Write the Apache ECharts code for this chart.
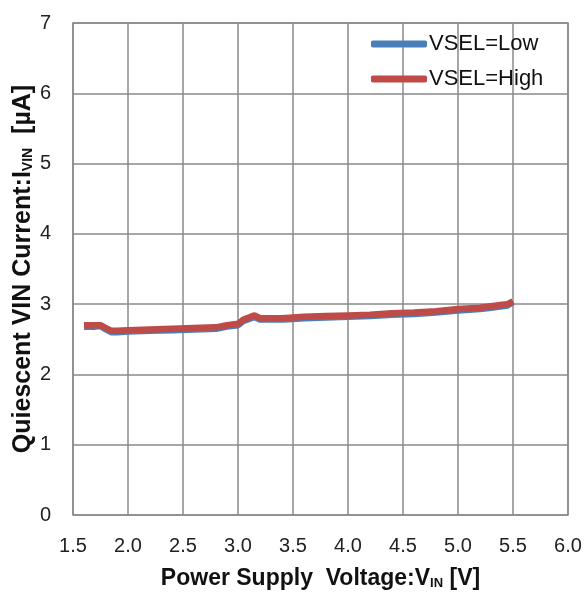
<!DOCTYPE html>
<html>
<head>
<meta charset="utf-8">
<script src="https://cdn.jsdelivr.net/npm/echarts@6/dist/echarts.min.js"></script>
<style>
  html, body { margin: 0; padding: 0; background: #fff; }
  #main { width: 588px; height: 592px; }
</style>
</head>
<body>
<div id="main"></div>
<script>
// 数据
var vin = [1.6, 1.7, 1.75, 1.8, 1.85, 1.9, 2.0, 2.2, 2.4, 2.6, 2.8, 2.9, 3.0, 3.05, 3.1, 3.15, 3.2, 3.3, 3.4, 3.5, 3.6, 3.8, 4.0, 4.2, 4.4, 4.6, 4.8, 5.0, 5.2, 5.3, 5.4, 5.45, 5.5]
var lowVals = [2.68, 2.68, 2.69, 2.64, 2.60, 2.60, 2.61, 2.62, 2.63, 2.64, 2.65, 2.68, 2.70, 2.76, 2.79, 2.82, 2.78, 2.78, 2.78, 2.79, 2.80, 2.81, 2.82, 2.83, 2.85, 2.86, 2.88, 2.91, 2.93, 2.95, 2.97, 2.98, 3.03]
var highVals = [2.70, 2.70, 2.70, 2.66, 2.62, 2.62, 2.63, 2.64, 2.65, 2.66, 2.67, 2.70, 2.72, 2.78, 2.81, 2.84, 2.80, 2.80, 2.80, 2.81, 2.82, 2.83, 2.84, 2.85, 2.87, 2.88, 2.90, 2.93, 2.95, 2.97, 2.99, 3.00, 3.04]

function pairs(xs, ys) {
    var out = []
    for (var i = 0; i < xs.length; i++) {
        out.push([xs[i], ys[i]])
    }
    return out
}

var myChart = echarts.init(document.getElementById('main'))
var gridLine = {show: true, lineStyle: {color: '#8a8a8a', width: 1.5}}
myChart.setOption({
    animation: false,
    textStyle: {fontFamily: 'Liberation Sans, Arial, sans-serif'},
    grid: {
        left: 73, right: 20, top: 23, bottom: 77,
        outerBoundsMode: 'none',
        show: true, borderColor: '#8a8a8a', borderWidth: 1.5
    },
    legend: {
        orient: 'vertical',
        left: 366,
        top: 28,
        itemWidth: 56,
        itemHeight: 7,
        itemGap: 13,
        icon: 'roundRect',
        textStyle: {fontSize: 22, color: '#111', padding: [0, 0, 0, -3]},
        data: ['VSEL=Low', 'VSEL=High']
    },
    xAxis: {
        type: 'value',
        min: 1.5,
        max: 6.0,
        interval: 0.5,
        name: '{b|Power Supply  Voltage:V}{s|IN}{b| [V]}',
        nameLocation: 'middle',
        nameGap: 52,
        nameTextStyle: {
            rich: {
                b: {fontSize: 23, fontWeight: 'bold', color: '#111'},
                s: {fontSize: 13, fontWeight: 'bold', color: '#111', padding: [9, 0, 0, 0]}
            }
        },
        axisLine: {show: false},
        axisTick: {show: false},
        splitLine: gridLine,
        axisLabel: {fontSize: 20, color: '#222', margin: 21, formatter: function (v) { return v.toFixed(1) }}
    },
    yAxis: {
        type: 'value',
        min: 0,
        max: 7,
        interval: 1,
        name: '{b|Quiescent VIN Current:I}{s|VIN}{b|  [µA]}',
        nameLocation: 'middle',
        nameGap: 37,
        nameMoveOverlap: false,
        nameTextStyle: {
            rich: {
                b: {fontSize: 25, fontWeight: 'bold', color: '#111'},
                s: {fontSize: 14, fontWeight: 'bold', color: '#111', padding: [10, 0, 0, 0]}
            }
        },
        axisLine: {show: false},
        axisTick: {show: false},
        splitLine: gridLine,
        axisLabel: {fontSize: 20, color: '#222', margin: 22}
    },
    series: [
        {
            name: 'VSEL=Low',
            type: 'line',
            data: pairs(vin, lowVals),
            showSymbol: false,
            color: '#4a7ebb',
            lineStyle: {width: 6.5, color: '#4a7ebb'}
        },
        {
            name: 'VSEL=High',
            type: 'line',
            data: pairs(vin, highVals),
            showSymbol: false,
            color: '#be4b48',
            lineStyle: {width: 6.5, color: '#be4b48'}
        }
    ]
})
</script>
</body>
</html>
